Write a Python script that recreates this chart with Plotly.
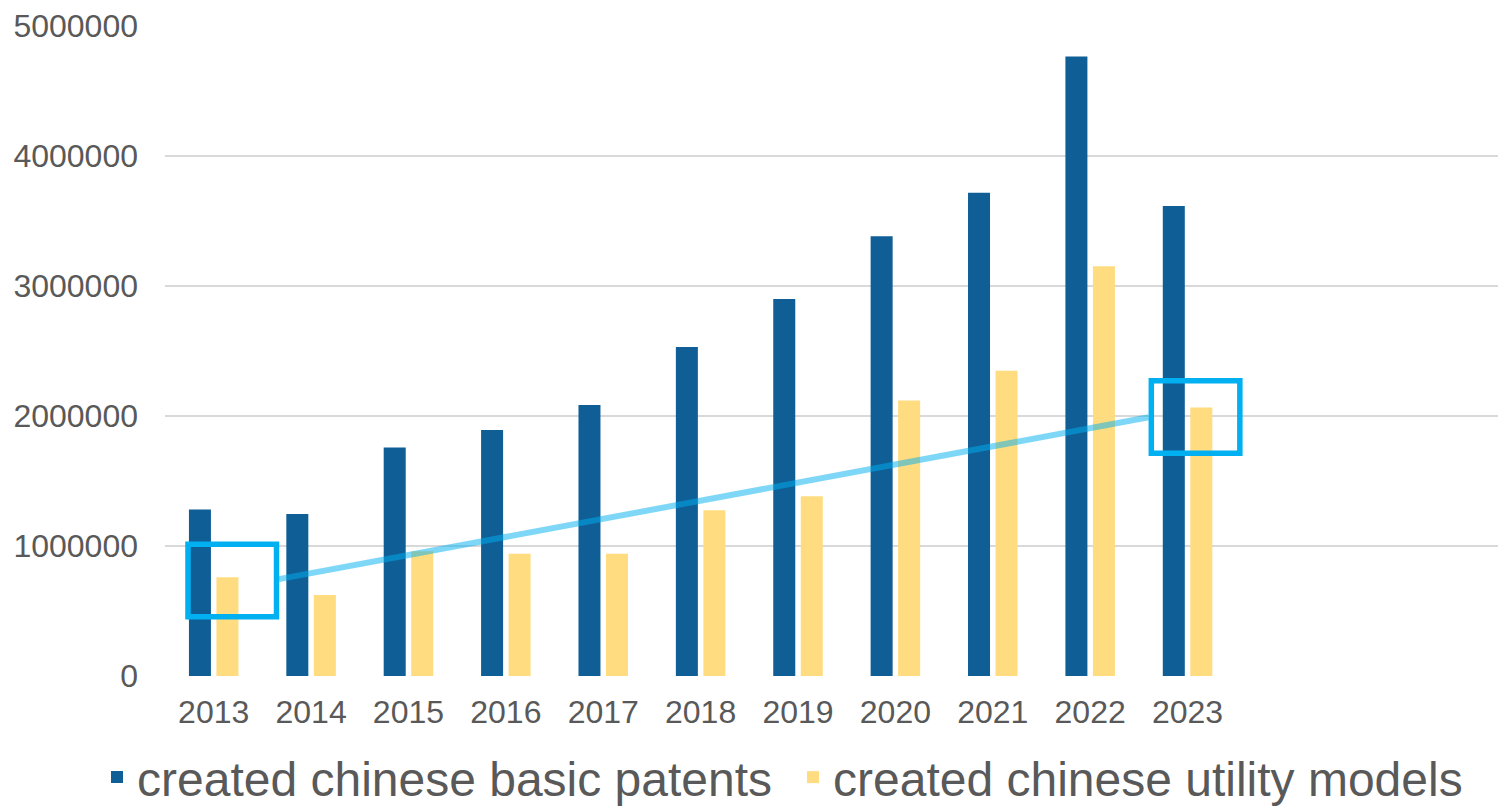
import plotly.graph_objects as go

years = [2013, 2014, 2015, 2016, 2017, 2018, 2019, 2020, 2021, 2022, 2023]
basic_patents = [1280000, 1246000, 1757000, 1892000, 2085000, 2531000, 2900000, 3382000, 3718000, 4765000, 3615000]
utility_models = [759000, 623000, 959000, 941000, 941000, 1275000, 1383000, 2120000, 2349000, 3152000, 2065000]
y_ticks = [0, 1000000, 2000000, 3000000, 4000000, 5000000]

# highlight trend annotation (x in year units, y in values)
trend_x = [2013.67, 2022.60]
trend_y = [745000, 1990000]
box1 = dict(x0=2012.736, x1=2013.645, y0=455000, y1=1013000)
box2 = dict(x0=2022.628, x1=2023.537, y0=1713000, y1=2271000)

BLUE = "#0F5E96"
YELLOW = "#FFDC80"
TEXT = "#595959"
GRID = "#D9D9D9"
FONT = "Liberation Sans, Arial, sans-serif"

fig = go.Figure()
fig.add_trace(go.Bar(x=years, y=basic_patents, name="created chinese basic patents",
                     marker=dict(color=BLUE, line=dict(width=0))))
fig.add_trace(go.Bar(x=years, y=utility_models, name="created chinese utility models",
                     marker=dict(color=YELLOW, line=dict(width=0))))
fig.add_trace(go.Scatter(x=trend_x, y=trend_y, mode="lines", showlegend=False,
                         line=dict(color="rgba(0,176,240,0.5)", width=6), hoverinfo="skip"))

for b in (box1, box2):
    fig.add_shape(type="rect", xref="x", yref="y", **b,
                  line=dict(color="#00B0F0", width=5.5), fillcolor="rgba(0,0,0,0)", layer="above")

fig.update_layout(
    width=1498, height=798,
    margin=dict(l=157, r=0, t=18, b=130, autoexpand=False),
    paper_bgcolor="white", plot_bgcolor="white",
    barmode="group", bargap=0.435, bargroupgap=0.2,
    font=dict(family=FONT, color=TEXT, size=32),
    showlegend=True,
    legend=dict(orientation="h", x=-0.0507, xanchor="left", y=-0.156, yanchor="middle",
                font=dict(size=48, color=TEXT, family=FONT), itemsizing="constant",
                traceorder="normal", borderwidth=0, entrywidth=651, entrywidthmode="pixels"),
)
fig.update_xaxes(range=[2012.5, 2026.27], tickmode="array", tickvals=years,
                 ticktext=[str(y) for y in years], showgrid=False, zeroline=False,
                 showline=False, ticks="", ticklabelstandoff=14, automargin=False,
                 tickfont=dict(size=32, color=TEXT, family=FONT))
fig.update_yaxes(range=[0, 5000000], tickmode="array", tickvals=y_ticks,
                 ticktext=[str(v) for v in y_ticks], showgrid=True, gridcolor=GRID,
                 gridwidth=2, zeroline=False, showline=False, ticks="", automargin=False,
                 ticklabelstandoff=26, tickfont=dict(size=32, color=TEXT, family=FONT))

fig.write_html("out.html")
